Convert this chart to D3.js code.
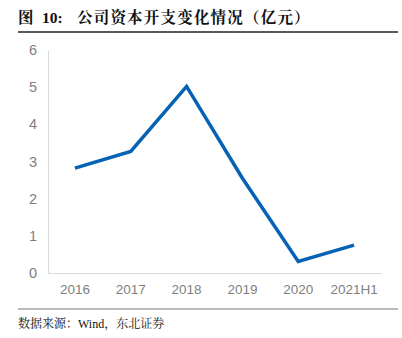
<!DOCTYPE html>
<html><head><meta charset="utf-8">
<script src="https://cdn.jsdelivr.net/npm/d3@7/dist/d3.min.js"></script>
<style>body{margin:0;background:#fff}svg{display:block}</style>
</head><body>
<script>
const categories = ["2016","2017","2018","2019","2020","2021H1"];
const capex = [2.82, 3.27, 5.02, 2.55, 0.31, 0.75];
const yTicks = [0,1,2,3,4,5,6];
const titlePrefix = "图";
const titleNumber = "10:";
const titleText = "公司资本开支变化情况（亿元）";
const sourceText = "数据来源：Wind，东北证券";

const W = 402, H = 338;
const svg = d3.select("body").append("svg").attr("width", W).attr("height", H);
const serif = "'Liberation Serif','Noto Serif CJK SC','Noto Sans CJK SC',serif";

const title = svg.append("text").attr("y", 23)
  .attr("font-family", serif)
  .attr("font-weight", "bold").attr("font-size", 15.5).attr("fill", "#111");
title.append("tspan").attr("x", 18).text(titlePrefix);
title.append("tspan").attr("x", 42).text(titleNumber);
title.append("tspan").attr("x", 77).attr("letter-spacing", 1.2).text(titleText);
svg.append("line").attr("x1", 18).attr("x2", 398).attr("y1", 32).attr("y2", 32)
  .attr("stroke", "#222").attr("stroke-width", 1.5);

const x = d3.scaleBand().domain(categories).range([47, 382]);
const y = d3.scaleLinear().domain([0, 6]).range([273, 50]);

const yAxis = svg.append("g").attr("transform", "translate(48,0)")
  .call(d3.axisLeft(y).tickValues(yTicks).tickSize(0).tickPadding(11).tickFormat(d3.format("d")));
yAxis.select(".domain").attr("stroke", "#d9d9d9");
yAxis.selectAll("text").attr("font-family", "Liberation Sans, Arial, sans-serif")
  .attr("font-size", 14.5).attr("fill", "#7f7f7f");

const xAxis = svg.append("g").attr("transform", "translate(0,273)")
  .call(d3.axisBottom(x).tickSize(0).tickPadding(11));
xAxis.select(".domain").attr("stroke", "#d9d9d9").attr("d", "M47.5,0.5H382");
xAxis.selectAll("text").attr("font-family", "Liberation Sans, Arial, sans-serif")
  .attr("font-size", 13.5).attr("fill", "#7f7f7f");

const line = d3.line().x((d, i) => x(categories[i]) + x.bandwidth() / 2).y(d => y(d));
svg.append("path").datum(capex).attr("d", line)
  .attr("fill", "none").attr("stroke", "#0562b4").attr("stroke-width", 3.5)
  .attr("stroke-linejoin", "miter");

svg.append("line").attr("x1", 18).attr("x2", 398).attr("y1", 309).attr("y2", 309)
  .attr("stroke", "#777").attr("stroke-width", 1.2);
svg.append("text").attr("x", 18).attr("y", 328)
  .attr("font-family", serif).attr("font-size", 12).attr("fill", "#111")
  .text(sourceText);
</script>
</body></html>
